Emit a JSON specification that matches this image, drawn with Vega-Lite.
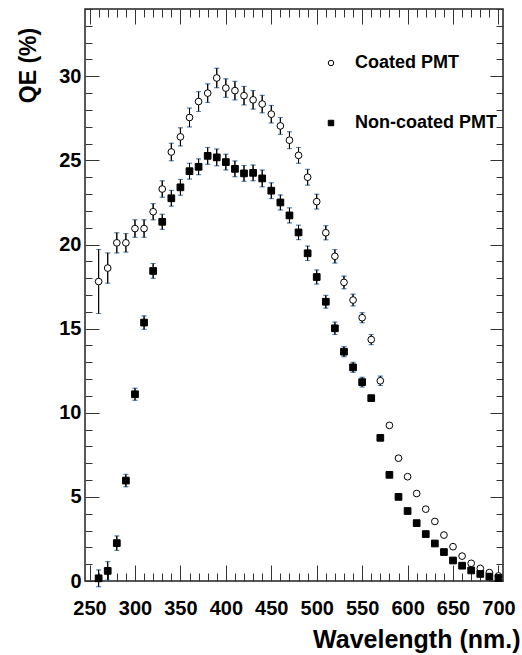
{
  "$schema": "https://vega.github.io/schema/vega-lite/v6.json",
  "autosize": {"type": "none"},
  "width": 418,
  "height": 572,
  "padding": {"left": 85, "top": 9, "right": 19, "bottom": 74},
  "background": "white",
  "config": {
    "font": "Liberation Sans",
    "view": {"stroke": "#222", "strokeWidth": 1.5},
    "axis": {"tickColor": "#333", "tickWidth": 1, "domain": false, "grid": false},
    "legend": {
      "labelFont": "Liberation Sans", "labelFontWeight": "bold", "labelFontSize": 18, "labelColor": "black",
      "labelOffset": 15, "rowPadding": 42, "symbolSize": 30, "symbolStrokeWidth": 1, "padding": 0
    }
  },
  "data": {
    "values": [
      {"w": 260, "s": "Coated PMT", "qe": 17.8, "err": 1.9},
      {"w": 270, "s": "Coated PMT", "qe": 18.6, "err": 0.9},
      {"w": 280, "s": "Coated PMT", "qe": 20.1, "err": 0.6},
      {"w": 290, "s": "Coated PMT", "qe": 20.1, "err": 0.55},
      {"w": 300, "s": "Coated PMT", "qe": 20.95, "err": 0.52},
      {"w": 310, "s": "Coated PMT", "qe": 20.95, "err": 0.52},
      {"w": 320, "s": "Coated PMT", "qe": 21.95, "err": 0.48},
      {"w": 330, "s": "Coated PMT", "qe": 23.3, "err": 0.49},
      {"w": 340, "s": "Coated PMT", "qe": 25.5, "err": 0.52},
      {"w": 350, "s": "Coated PMT", "qe": 26.4, "err": 0.54},
      {"w": 360, "s": "Coated PMT", "qe": 27.55, "err": 0.56},
      {"w": 370, "s": "Coated PMT", "qe": 28.5, "err": 0.59},
      {"w": 380, "s": "Coated PMT", "qe": 29.0, "err": 0.55},
      {"w": 390, "s": "Coated PMT", "qe": 29.9, "err": 0.58},
      {"w": 400, "s": "Coated PMT", "qe": 29.3, "err": 0.55},
      {"w": 410, "s": "Coated PMT", "qe": 29.15, "err": 0.55},
      {"w": 420, "s": "Coated PMT", "qe": 28.85, "err": 0.55},
      {"w": 430, "s": "Coated PMT", "qe": 28.6, "err": 0.55},
      {"w": 440, "s": "Coated PMT", "qe": 28.35, "err": 0.52},
      {"w": 450, "s": "Coated PMT", "qe": 27.75, "err": 0.52},
      {"w": 460, "s": "Coated PMT", "qe": 27.05, "err": 0.5},
      {"w": 470, "s": "Coated PMT", "qe": 26.2, "err": 0.5},
      {"w": 480, "s": "Coated PMT", "qe": 25.3, "err": 0.47},
      {"w": 490, "s": "Coated PMT", "qe": 24.0, "err": 0.47},
      {"w": 500, "s": "Coated PMT", "qe": 22.55, "err": 0.44},
      {"w": 510, "s": "Coated PMT", "qe": 20.7, "err": 0.42},
      {"w": 520, "s": "Coated PMT", "qe": 19.3, "err": 0.4},
      {"w": 530, "s": "Coated PMT", "qe": 17.75, "err": 0.38},
      {"w": 540, "s": "Coated PMT", "qe": 16.7, "err": 0.35},
      {"w": 550, "s": "Coated PMT", "qe": 15.65, "err": 0.3},
      {"w": 560, "s": "Coated PMT", "qe": 14.35, "err": 0.3},
      {"w": 570, "s": "Coated PMT", "qe": 11.9, "err": 0.28},
      {"w": 580, "s": "Coated PMT", "qe": 9.25, "err": 0},
      {"w": 590, "s": "Coated PMT", "qe": 7.3, "err": 0},
      {"w": 600, "s": "Coated PMT", "qe": 6.2, "err": 0},
      {"w": 610, "s": "Coated PMT", "qe": 5.2, "err": 0},
      {"w": 620, "s": "Coated PMT", "qe": 4.27, "err": 0},
      {"w": 630, "s": "Coated PMT", "qe": 3.54, "err": 0},
      {"w": 640, "s": "Coated PMT", "qe": 2.73, "err": 0},
      {"w": 650, "s": "Coated PMT", "qe": 2.04, "err": 0},
      {"w": 660, "s": "Coated PMT", "qe": 1.48, "err": 0},
      {"w": 670, "s": "Coated PMT", "qe": 1.05, "err": 0},
      {"w": 680, "s": "Coated PMT", "qe": 0.75, "err": 0},
      {"w": 690, "s": "Coated PMT", "qe": 0.5, "err": 0},
      {"w": 700, "s": "Coated PMT", "qe": 0.3, "err": 0},
      {"w": 260, "s": "Non-coated PMT", "qe": 0.16, "err": 0.5},
      {"w": 270, "s": "Non-coated PMT", "qe": 0.6, "err": 0.55},
      {"w": 280, "s": "Non-coated PMT", "qe": 2.25, "err": 0.43},
      {"w": 290, "s": "Non-coated PMT", "qe": 5.97, "err": 0.37},
      {"w": 300, "s": "Non-coated PMT", "qe": 11.1, "err": 0.36},
      {"w": 310, "s": "Non-coated PMT", "qe": 15.36, "err": 0.4},
      {"w": 320, "s": "Non-coated PMT", "qe": 18.43, "err": 0.44},
      {"w": 330, "s": "Non-coated PMT", "qe": 21.35, "err": 0.45},
      {"w": 340, "s": "Non-coated PMT", "qe": 22.75, "err": 0.47},
      {"w": 350, "s": "Non-coated PMT", "qe": 23.4, "err": 0.47},
      {"w": 360, "s": "Non-coated PMT", "qe": 24.36, "err": 0.47},
      {"w": 370, "s": "Non-coated PMT", "qe": 24.62, "err": 0.47},
      {"w": 380, "s": "Non-coated PMT", "qe": 25.27, "err": 0.5},
      {"w": 390, "s": "Non-coated PMT", "qe": 25.18, "err": 0.5},
      {"w": 400, "s": "Non-coated PMT", "qe": 24.9, "err": 0.47},
      {"w": 410, "s": "Non-coated PMT", "qe": 24.5, "err": 0.47},
      {"w": 420, "s": "Non-coated PMT", "qe": 24.23, "err": 0.47},
      {"w": 430, "s": "Non-coated PMT", "qe": 24.26, "err": 0.47},
      {"w": 440, "s": "Non-coated PMT", "qe": 23.93, "err": 0.5},
      {"w": 450, "s": "Non-coated PMT", "qe": 23.2, "err": 0.47},
      {"w": 460, "s": "Non-coated PMT", "qe": 22.5, "err": 0.45},
      {"w": 470, "s": "Non-coated PMT", "qe": 21.73, "err": 0.45},
      {"w": 480, "s": "Non-coated PMT", "qe": 20.72, "err": 0.43},
      {"w": 490, "s": "Non-coated PMT", "qe": 19.48, "err": 0.43},
      {"w": 500, "s": "Non-coated PMT", "qe": 18.07, "err": 0.42},
      {"w": 510, "s": "Non-coated PMT", "qe": 16.6, "err": 0.38},
      {"w": 520, "s": "Non-coated PMT", "qe": 15.02, "err": 0.37},
      {"w": 530, "s": "Non-coated PMT", "qe": 13.63, "err": 0.3},
      {"w": 540, "s": "Non-coated PMT", "qe": 12.7, "err": 0.3},
      {"w": 550, "s": "Non-coated PMT", "qe": 11.82, "err": 0.29},
      {"w": 560, "s": "Non-coated PMT", "qe": 10.87, "err": 0},
      {"w": 570, "s": "Non-coated PMT", "qe": 8.51, "err": 0},
      {"w": 580, "s": "Non-coated PMT", "qe": 6.31, "err": 0},
      {"w": 590, "s": "Non-coated PMT", "qe": 5.0, "err": 0},
      {"w": 600, "s": "Non-coated PMT", "qe": 4.16, "err": 0},
      {"w": 610, "s": "Non-coated PMT", "qe": 3.44, "err": 0},
      {"w": 620, "s": "Non-coated PMT", "qe": 2.79, "err": 0},
      {"w": 630, "s": "Non-coated PMT", "qe": 2.23, "err": 0},
      {"w": 640, "s": "Non-coated PMT", "qe": 1.72, "err": 0},
      {"w": 650, "s": "Non-coated PMT", "qe": 1.22, "err": 0},
      {"w": 660, "s": "Non-coated PMT", "qe": 0.91, "err": 0},
      {"w": 670, "s": "Non-coated PMT", "qe": 0.63, "err": 0},
      {"w": 680, "s": "Non-coated PMT", "qe": 0.42, "err": 0},
      {"w": 690, "s": "Non-coated PMT", "qe": 0.26, "err": 0},
      {"w": 700, "s": "Non-coated PMT", "qe": 0.18, "err": 0}
    ]
  },
  "layer": [
    {
      "mark": {"type": "errorbar", "ticks": true},
      "encoding": {
        "x": {
          "field": "w", "type": "quantitative",
          "scale": {"domain": [245, 705], "nice": false, "zero": false},
          "axis": {
            "orient": "bottom",
            "values": [250,300,350,400,450,500,550,600,650,700],
            "tickSize": -16,
            "labelFont": "Liberation Sans", "labelFontWeight": "bold", "labelFontSize": 20, "labelColor": "black",
            "labelPadding": 33, "labelBaseline": "top",
            "title": "Wavelength (nm.)",
            "titleFont": "Liberation Sans", "titleFontWeight": "bold", "titleFontSize": 25, "titleColor": "black",
            "titleAnchor": "end", "titleAlign": "right", "titleX": 435, "titleY": 66, "titleBaseline": "alphabetic"
          }
        },
        "y": {
          "field": "qe", "type": "quantitative",
          "scale": {"domain": [0, 34], "nice": false, "zero": false},
          "axis": {
            "orient": "left",
            "values": [0,5,10,15,20,25,30],
            "tickSize": -14,
            "labelFont": "Liberation Sans", "labelFontWeight": "bold", "labelFontSize": 20, "labelColor": "black",
            "labelPadding": 18,
            "title": "QE (%)",
            "titleFont": "Liberation Sans", "titleFontWeight": "bold", "titleFontSize": 23, "titleColor": "black",
            "titleAngle": -90, "titleAlign": "center", "titleBaseline": "middle", "titleX": -57, "titleY": 56
          }
        },
        "yError": {"field": "err"}
      }
    },
    {
      "mark": {"type": "errorbar", "ticks": true},
      "encoding": {
        "x": {
          "field": "w", "type": "quantitative",
          "axis": {
            "orient": "bottom",
            "values": [260,270,280,290,310,320,330,340,360,370,380,390,410,420,430,440,460,470,480,490,510,520,530,540,560,570,580,590,610,620,630,640,660,670,680,690],
            "tickSize": -8, "labels": false, "title": null
          }
        },
        "y": {
          "field": "qe", "type": "quantitative",
          "axis": {
            "orient": "left",
            "values": [1,2,3,4,6,7,8,9,11,12,13,14,16,17,18,19,21,22,23,24,26,27,28,29,31,32,33,34],
            "tickSize": -7, "labels": false, "title": null
          }
        },
        "yError": {"field": "err"}
      }
    },
    {
      "mark": {"type": "point", "filled": true, "strokeWidth": 1, "opacity": 1, "size": 45},
      "encoding": {
        "x": {
          "field": "w", "type": "quantitative",
          "axis": {
            "orient": "top",
            "values": [250,300,350,400,450,500,550,600,650,700],
            "tickSize": -15, "labels": false, "title": null
          }
        },
        "y": {
          "field": "qe", "type": "quantitative",
          "axis": {
            "orient": "right",
            "values": [0,5,10,15,20,25,30],
            "tickSize": -13, "labels": false, "title": null
          }
        },
        "shape": {
          "field": "s", "type": "nominal",
          "scale": {"domain": ["Coated PMT", "Non-coated PMT"], "range": ["circle", "square"]},
          "legend": {"orient": "none", "legendX": 237, "legendY": 45, "title": null}
        },
        "fill": {
          "field": "s", "type": "nominal",
          "scale": {"domain": ["Coated PMT", "Non-coated PMT"], "range": ["white", "black"]},
          "legend": {"orient": "none", "legendX": 237, "legendY": 45, "title": null}
        },
        "stroke": {
          "field": "s", "type": "nominal",
          "scale": {"domain": ["Coated PMT", "Non-coated PMT"], "range": ["black", "black"]},
          "legend": {"orient": "none", "legendX": 237, "legendY": 45, "title": null}
        }
      }
    },
    {
      "mark": {"type": "point", "opacity": 0},
      "encoding": {
        "x": {
          "field": "w", "type": "quantitative",
          "axis": {
            "orient": "top",
            "values": [260,270,280,290,310,320,330,340,360,370,380,390,410,420,430,440,460,470,480,490,510,520,530,540,560,570,580,590,610,620,630,640,660,670,680,690],
            "tickSize": -8, "labels": false, "title": null
          }
        },
        "y": {
          "field": "qe", "type": "quantitative",
          "axis": {
            "orient": "right",
            "values": [1,2,3,4,6,7,8,9,11,12,13,14,16,17,18,19,21,22,23,24,26,27,28,29,31,32,33,34],
            "tickSize": -7, "labels": false, "title": null
          }
        }
      }
    }
  ],
  "resolve": {"axis": {"x": "independent", "y": "independent"}}
}
